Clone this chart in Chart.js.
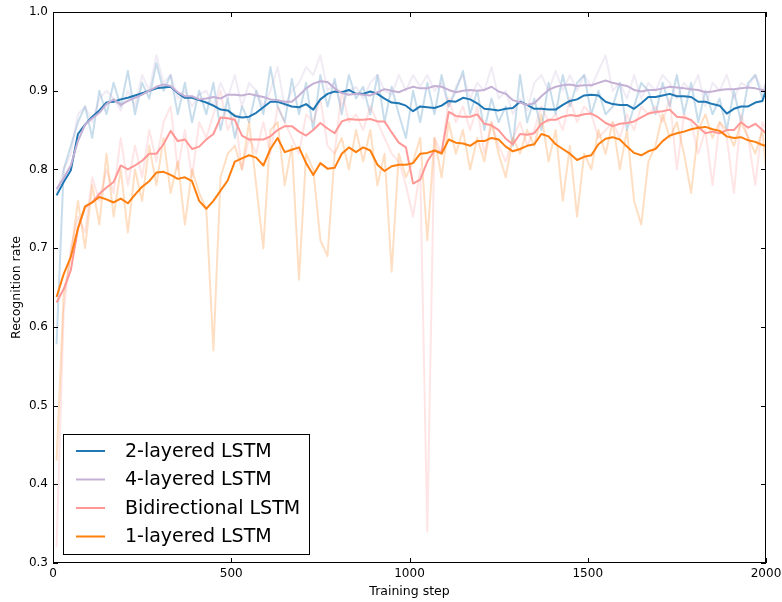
<!DOCTYPE html>
<html>
<head>
<meta charset="utf-8">
<script src="https://cdn.jsdelivr.net/npm/chart.js@4.4.1/dist/chart.umd.min.js"></script>
<style>
  html, body { margin: 0; padding: 0; background: #fff; }
  #wrap { width: 782px; height: 602px; }
</style>
</head>
<body>
<div id="wrap"><canvas id="chart" width="782" height="602"></canvas></div>
<script>
// training steps where each curve was logged
const steps = [
  10, 30, 50, 70, 90, 110, 130, 150, 170, 190,
  210, 230, 250, 270, 290, 310, 330, 350, 370, 390,
  410, 430, 450, 470, 490, 510, 530, 550, 570, 590,
  610, 630, 650, 670, 690, 710, 730, 750, 770, 790,
  810, 830, 850, 870, 890, 910, 930, 950, 970, 990,
  1010, 1030, 1050, 1070, 1090, 1110, 1130, 1150, 1170, 1190,
  1210, 1230, 1250, 1270, 1290, 1310, 1330, 1350, 1370, 1390,
  1410, 1430, 1450, 1470, 1490, 1510, 1530, 1550, 1570, 1590,
  1610, 1630, 1650, 1670, 1690, 1710, 1730, 1750, 1770, 1790,
  1810, 1830, 1850, 1870, 1890, 1910, 1930, 1950, 1970, 1990,
  2000
];

const xTicks = [0, 500, 1000, 1500, 2000];
const yTicks = [0.3, 0.4, 0.5, 0.6, 0.7, 0.8, 0.9, 1.0];

// smoothed recognition rate
const lstm2Smooth = [
  0.767, 0.784, 0.799, 0.845, 0.857, 0.867, 0.875, 0.885, 0.886, 0.889,
  0.891, 0.894, 0.897, 0.900, 0.903, 0.904, 0.905, 0.897, 0.891, 0.891,
  0.888, 0.885, 0.881, 0.876, 0.875, 0.868, 0.866, 0.867, 0.872, 0.879,
  0.886, 0.886, 0.883, 0.880, 0.879, 0.883, 0.876, 0.889, 0.896, 0.899,
  0.898, 0.901, 0.896, 0.896, 0.899, 0.896, 0.890, 0.885, 0.884, 0.881,
  0.874, 0.880, 0.879, 0.878, 0.881, 0.887, 0.886, 0.891, 0.889, 0.884,
  0.877, 0.876, 0.875, 0.877, 0.878, 0.886, 0.882, 0.877, 0.877, 0.876,
  0.876, 0.882, 0.887, 0.889, 0.894, 0.895, 0.894, 0.886, 0.883, 0.882,
  0.882, 0.877, 0.884, 0.892, 0.892, 0.894, 0.896, 0.893, 0.893, 0.892,
  0.886, 0.886, 0.883, 0.881, 0.871, 0.877, 0.880, 0.880, 0.885, 0.887,
  0.900
];
const lstm4Smooth = [
  0.775, 0.789, 0.805, 0.836, 0.857, 0.865, 0.872, 0.883, 0.889, 0.882,
  0.887, 0.891, 0.895, 0.900, 0.905, 0.908, 0.906, 0.898, 0.893, 0.893,
  0.889, 0.890, 0.892, 0.890, 0.895, 0.895, 0.894, 0.896, 0.894, 0.892,
  0.889, 0.888, 0.886, 0.886, 0.894, 0.903, 0.909, 0.912, 0.911, 0.903,
  0.897, 0.895, 0.896, 0.895, 0.894, 0.898, 0.902, 0.900, 0.898, 0.902,
  0.905, 0.903, 0.903, 0.906, 0.905, 0.901, 0.898, 0.900, 0.901, 0.900,
  0.901, 0.905, 0.899, 0.896, 0.888, 0.885, 0.882, 0.884, 0.893, 0.901,
  0.905, 0.907, 0.908, 0.906, 0.907, 0.907, 0.910, 0.913, 0.910, 0.908,
  0.906, 0.901, 0.899, 0.901, 0.901, 0.903, 0.905, 0.904, 0.903, 0.902,
  0.901, 0.898, 0.899, 0.901, 0.902, 0.902, 0.903, 0.904, 0.903, 0.901,
  0.901
];
const biSmooth = [
  0.631, 0.648, 0.672, 0.725, 0.752, 0.758, 0.769, 0.777, 0.784, 0.805,
  0.800, 0.805, 0.811, 0.820, 0.820, 0.832, 0.849, 0.836, 0.838, 0.826,
  0.829, 0.838, 0.845, 0.866, 0.865, 0.863, 0.843, 0.838, 0.838, 0.838,
  0.842, 0.850, 0.855, 0.855, 0.848, 0.843, 0.850, 0.859, 0.852, 0.846,
  0.861, 0.864, 0.863, 0.863, 0.864, 0.861, 0.861, 0.847, 0.834, 0.828,
  0.782, 0.787, 0.810, 0.824, 0.822, 0.873, 0.868, 0.867, 0.867, 0.870,
  0.858, 0.856, 0.850, 0.839, 0.832, 0.845, 0.844, 0.846, 0.858, 0.863,
  0.863, 0.867, 0.869, 0.868, 0.870, 0.871, 0.866, 0.859, 0.855, 0.858,
  0.859, 0.861, 0.866, 0.871, 0.873, 0.874, 0.876, 0.867, 0.866, 0.863,
  0.854, 0.846, 0.848, 0.846, 0.850, 0.850, 0.860, 0.853, 0.858, 0.850,
  0.846
];
const lstm1Smooth = [
  0.638, 0.667, 0.689, 0.725, 0.753, 0.758, 0.765, 0.762, 0.758, 0.763,
  0.757, 0.768, 0.778, 0.785, 0.796, 0.797, 0.793, 0.788, 0.790, 0.785,
  0.760, 0.750, 0.760, 0.773, 0.786, 0.810, 0.814, 0.818, 0.815, 0.805,
  0.826, 0.840, 0.822, 0.825, 0.828, 0.808, 0.793, 0.808, 0.801, 0.802,
  0.820, 0.828, 0.822, 0.828, 0.824, 0.806, 0.798, 0.804, 0.806, 0.806,
  0.808, 0.820, 0.821, 0.824, 0.820, 0.838, 0.834, 0.833, 0.830, 0.836,
  0.836, 0.840, 0.838, 0.829, 0.823, 0.826, 0.830, 0.832, 0.845, 0.842,
  0.832, 0.826, 0.820, 0.812, 0.816, 0.818, 0.832, 0.839, 0.841, 0.838,
  0.829, 0.821, 0.818, 0.823, 0.826, 0.836, 0.843, 0.846, 0.848, 0.851,
  0.853, 0.854, 0.851, 0.849, 0.842, 0.840, 0.841, 0.837, 0.835, 0.831,
  0.830
];

// raw per-step recognition rate
const lstm2Raw = [
  0.578, 0.80, 0.83, 0.86, 0.88, 0.84, 0.90, 0.87, 0.91, 0.88,
  0.925, 0.87, 0.91, 0.89, 0.935, 0.90, 0.92, 0.87, 0.91, 0.86,
  0.90, 0.87, 0.91, 0.85, 0.89, 0.84, 0.88, 0.86, 0.90, 0.87,
  0.93, 0.88, 0.86, 0.915, 0.87, 0.91, 0.85, 0.92, 0.88, 0.915,
  0.87, 0.92, 0.89, 0.905, 0.87, 0.92, 0.86, 0.905, 0.87, 0.84,
  0.90, 0.86, 0.91, 0.87, 0.92, 0.88, 0.90, 0.925, 0.87, 0.90,
  0.85, 0.89, 0.86, 0.88, 0.83, 0.92, 0.86, 0.89, 0.85, 0.91,
  0.87, 0.92, 0.88, 0.91, 0.92, 0.87, 0.90, 0.87, 0.88, 0.91,
  0.85, 0.88, 0.91, 0.90, 0.87, 0.91, 0.88, 0.92, 0.87, 0.91,
  0.86, 0.90, 0.87, 0.89, 0.85, 0.90, 0.86, 0.91, 0.92, 0.89,
  0.91
];
const lstm4Raw = [
  0.77, 0.80, 0.82, 0.87, 0.88, 0.86, 0.89, 0.90, 0.89, 0.875,
  0.90, 0.88, 0.92, 0.90, 0.945, 0.91, 0.92, 0.89, 0.90, 0.88,
  0.895, 0.90, 0.88, 0.91, 0.89, 0.92, 0.88, 0.91, 0.90, 0.88,
  0.90, 0.93, 0.88, 0.90, 0.91, 0.93, 0.92, 0.945, 0.90, 0.91,
  0.88, 0.90, 0.905, 0.89, 0.91, 0.92, 0.90, 0.895, 0.92, 0.90,
  0.92, 0.905, 0.92, 0.90, 0.91, 0.88, 0.905, 0.92, 0.89, 0.91,
  0.90, 0.93, 0.89, 0.90, 0.87, 0.89, 0.875, 0.91, 0.92, 0.90,
  0.925, 0.90, 0.92, 0.90, 0.92, 0.905, 0.925, 0.945, 0.90, 0.91,
  0.89, 0.92, 0.89, 0.91, 0.90, 0.92, 0.91, 0.89, 0.91, 0.90,
  0.92, 0.88, 0.91, 0.90, 0.92, 0.89, 0.91, 0.905, 0.92, 0.90,
  0.91
];
const biRaw = [
  0.32, 0.62, 0.70, 0.74, 0.72, 0.79, 0.76, 0.80, 0.77, 0.84,
  0.78, 0.83, 0.79, 0.85, 0.81, 0.86, 0.88, 0.80, 0.85, 0.79,
  0.86, 0.84, 0.87, 0.90, 0.85, 0.87, 0.80, 0.84, 0.82, 0.86,
  0.82, 0.88, 0.86, 0.84, 0.82, 0.87, 0.86, 0.89, 0.83, 0.82,
  0.90, 0.86, 0.87, 0.85, 0.88, 0.86, 0.84, 0.82, 0.81, 0.78,
  0.74, 0.80, 0.34, 0.84, 0.82, 0.89, 0.86, 0.88, 0.85, 0.88,
  0.82, 0.86, 0.83, 0.81, 0.84, 0.86, 0.83, 0.85, 0.88, 0.86,
  0.87, 0.85, 0.89, 0.86, 0.88, 0.87, 0.84, 0.85, 0.86, 0.84,
  0.87, 0.85, 0.88, 0.87, 0.88, 0.86, 0.89, 0.80, 0.87, 0.86,
  0.82, 0.85, 0.78, 0.86, 0.84, 0.77, 0.87, 0.84, 0.78, 0.86,
  0.85
];
const lstm1Raw = [
  0.43, 0.64, 0.69, 0.76, 0.70, 0.78, 0.73, 0.82, 0.74, 0.80,
  0.72, 0.80, 0.76, 0.83, 0.78, 0.84, 0.77, 0.81, 0.73, 0.80,
  0.77, 0.75, 0.57, 0.79, 0.82, 0.83, 0.80, 0.86, 0.78, 0.70,
  0.85, 0.86, 0.78, 0.83, 0.66, 0.82, 0.80, 0.71, 0.69, 0.82,
  0.84, 0.80, 0.85, 0.81, 0.85, 0.78, 0.82, 0.67, 0.82, 0.79,
  0.81, 0.84, 0.71, 0.84, 0.79, 0.86, 0.82, 0.85, 0.80, 0.84,
  0.81, 0.86, 0.82, 0.79, 0.84, 0.82, 0.85, 0.83, 0.87, 0.81,
  0.85, 0.76, 0.83, 0.74, 0.82, 0.80, 0.85, 0.82, 0.86, 0.80,
  0.85, 0.76, 0.73, 0.81, 0.83, 0.87, 0.84, 0.86, 0.82, 0.77,
  0.85, 0.87, 0.84, 0.86, 0.85, 0.83, 0.86, 0.84, 0.82, 0.85,
  0.80
];

const names = ['2-layered LSTM', '4-layered LSTM', 'Bidirectional LSTM', '1-layered LSTM'];
const colors = ['#1f77b4', '#c5b0d5', '#ff9896', '#ff7f0e'];
const smoothSeries = [lstm2Smooth, lstm4Smooth, biSmooth, lstm1Smooth];
const rawSeries = [lstm2Raw, lstm4Raw, biRaw, lstm1Raw];

const FONT = "'DejaVu Sans', sans-serif";

const toPoints = vals => vals.map((v, i) => ({ x: steps[i], y: v }));

function fade(hex, a) {
  const n = parseInt(hex.slice(1), 16);
  return `rgba(${n >> 16}, ${(n >> 8) & 255}, ${n & 255}, ${a})`;
}

const datasets = [];
// faint raw curves underneath
rawSeries.forEach((vals, i) => {
  datasets.push({
    label: names[i] + ' (raw)',
    data: toPoints(vals),
    borderColor: fade(colors[i], 0.25),
    borderWidth: 2,
    pointRadius: 0,
    tension: 0,
    borderJoinStyle: 'round',
    order: 20 - i,
  });
});
// smoothed curves on top, last series drawn topmost
smoothSeries.forEach((vals, i) => {
  datasets.push({
    label: names[i],
    data: toPoints(vals),
    borderColor: colors[i],
    borderWidth: 2,
    pointRadius: 0,
    tension: 0,
    borderJoinStyle: 'round',
    order: 10 - i,
  });
});

// box around the axes, inward ticks on all four sides, and the legend
const framePlugin = {
  id: 'frame',
  afterDatasetsDraw(chart) {
    const { ctx, chartArea: a, scales: { x, y } } = chart;
    ctx.save();
    ctx.strokeStyle = '#000';
    ctx.lineWidth = 1;
    ctx.strokeRect(a.left + 0.5, a.top + 0.5, a.right - a.left - 1, a.bottom - a.top - 1);

    const len = 5;
    ctx.beginPath();
    xTicks.forEach(v => {
      const px = Math.round(x.getPixelForValue(v)) + 0.5;
      ctx.moveTo(px, a.bottom);
      ctx.lineTo(px, a.bottom - len);
      ctx.moveTo(px, a.top);
      ctx.lineTo(px, a.top + len);
    });
    yTicks.forEach(v => {
      const py = Math.round(y.getPixelForValue(v)) + 0.5;
      ctx.moveTo(a.left, py);
      ctx.lineTo(a.left + len, py);
      ctx.moveTo(a.right, py);
      ctx.lineTo(a.right - len, py);
    });
    ctx.stroke();

    // legend
    const boxL = a.left + 10, boxW = 246, boxH = 120;
    const boxT = a.bottom - 9 - boxH;
    ctx.fillStyle = '#fff';
    ctx.fillRect(boxL, boxT, boxW, boxH);
    ctx.strokeRect(boxL + 0.5, boxT + 0.5, boxW, boxH);
    ctx.font = `19px ${FONT}`;
    ctx.textBaseline = 'middle';
    ctx.textAlign = 'left';
    names.forEach((name, i) => {
      const rowY = boxT + 17 + i * 28.5;
      ctx.strokeStyle = colors[i];
      ctx.lineWidth = 2;
      ctx.beginPath();
      ctx.moveTo(boxL + 13, rowY);
      ctx.lineTo(boxL + 42, rowY);
      ctx.stroke();
      ctx.fillStyle = '#000';
      ctx.fillText(name, boxL + 62, rowY + 1);
    });
    ctx.restore();
  }
};

new Chart(document.getElementById('chart'), {
  type: 'line',
  data: { datasets },
  options: {
    responsive: false,
    animation: false,
    devicePixelRatio: 1,
    layout: { padding: { top: 12, right: 16, left: 0, bottom: 0 } },
    plugins: {
      legend: { display: false },
      tooltip: { enabled: false },
    },
    scales: {
      x: {
        type: 'linear',
        min: 0,
        max: 2000,
        afterBuildTicks: s => { s.ticks = xTicks.map(v => ({ value: v })); },
        afterFit: s => {
          s.height = 39;
          s.paddingLeft = 0;
          s.paddingRight = 0;
        },
        grid: { display: false, drawTicks: false },
        border: { display: false },
        ticks: {
          color: '#000',
          font: { family: FONT, size: 12 },
          padding: 4,
          maxRotation: 0,
          callback: v => String(v),
        },
        title: {
          display: true,
          text: 'Training step',
          color: '#000',
          font: { family: FONT, size: 12.5 },
          padding: { top: 0, bottom: 3 },
        },
      },
      y: {
        type: 'linear',
        min: 0.3,
        max: 1.0,
        afterBuildTicks: s => { s.ticks = yTicks.map(v => ({ value: v })); },
        afterFit: s => {
          s.width = 53;
          s.paddingTop = 0;
          s.paddingBottom = 0;
        },
        grid: { display: false, drawTicks: false },
        border: { display: false },
        ticks: {
          color: '#000',
          font: { family: FONT, size: 12 },
          padding: 5,
          callback: v => v.toFixed(1),
        },
        title: {
          display: true,
          text: 'Recognition rate',
          color: '#000',
          font: { family: FONT, size: 12.5 },
          padding: { top: 9, bottom: 0 },
        },
      },
    },
  },
  plugins: [framePlugin],
});
</script>
</body>
</html>
